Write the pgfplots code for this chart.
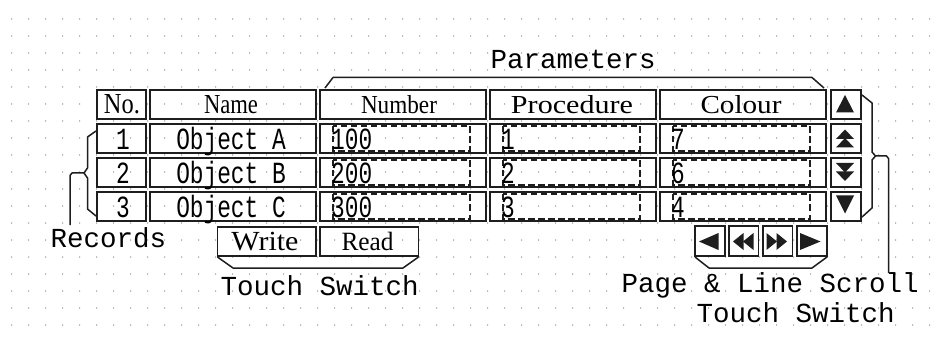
\documentclass[border=0pt]{standalone}
\usepackage{pgfplots}
\pgfplotsset{compat=1.18}
\usepackage{graphicx}
\usepackage{fontspec}
\setmainfont{Liberation Serif}
\newfontfamily\mono{Liberation Mono}
\newfontfamily\serif{Liberation Serif}
\definecolor{ink}{HTML}{1E1E1E}
\definecolor{dotc}{HTML}{959595}
\newcommand{\lbl}{\mono\fontsize{27.5}{30}\selectfont}
\newcommand{\celltxt}[1]{\scalebox{1}[1.35]{\mono\fontsize{22.8}{26}\selectfont #1}}
\newcommand{\hdr}[3]{\resizebox{#1pt}{#2pt}{\serif #3}}
\tikzset{cellst/.style={draw=ink,line width=1.9pt},
  dashst/.style={draw=ink,line width=2.6pt,dash pattern=on 6.5pt off 3.5pt},
  brst/.style={draw=ink,line width=1.5pt,line join=round},
  tri/.style={fill=ink,draw=none}}
\newcommand{\rowboxes}[2]{%
  \draw[cellst] (axis cs:97,#1) rectangle (axis cs:146,#2);
  \draw[cellst] (axis cs:150,#1) rectangle (axis cs:316,#2);
  \draw[cellst] (axis cs:320,#1) rectangle (axis cs:486,#2);
  \draw[cellst] (axis cs:490,#1) rectangle (axis cs:656,#2);
  \draw[cellst] (axis cs:660,#1) rectangle (axis cs:826,#2);
  \draw[cellst] (axis cs:831,#1) rectangle (axis cs:861,#2);}
\newcommand{\dboxes}[2]{%
  \draw[dashst] (axis cs:333,#1) rectangle (axis cs:470,#2);
  \draw[dashst] (axis cs:503,#1) rectangle (axis cs:640,#2);
  \draw[dashst] (axis cs:673,#1) rectangle (axis cs:810,#2);}
\newcommand{\datarow}[6]{% baseline, no, name, number, proc, colour
  \node[anchor=base,inner sep=0] at (axis cs:123,#1) {\celltxt{#2}};
  \node[anchor=base,inner sep=0] at (axis cs:231,#1) {\celltxt{#3}};
  \node[anchor=base west,inner sep=0] at (axis cs:331,#1) {\celltxt{#4}};
  \node[anchor=base west,inner sep=0] at (axis cs:501,#1) {\celltxt{#5}};
  \node[anchor=base west,inner sep=0] at (axis cs:671,#1) {\celltxt{#6}};}
\begin{document}
\begin{tikzpicture}
\begin{axis}[x=1pt,y=1pt,xmin=0,xmax=931,ymin=0,ymax=339,y dir=reverse,
  hide axis,clip=false,scale only axis]
\fill[white] (axis cs:0,0) rectangle (axis cs:931,339);
\pgfplotsextra{\foreach \i in {0,...,54}{\foreach \j in {0,...,18}{\fill[dotc] (axis cs:{11.7+17*\i},{19+17*\j}) circle[radius=0.75pt];}}}
% table cells
\rowboxes{90}{119}
\rowboxes{124}{153}
\rowboxes{158}{187}
\rowboxes{192}{221}
\dboxes{126}{151}
\dboxes{160}{185}
\dboxes{194}{219}
% header texts
\node[anchor=base,inner sep=0] at (axis cs:122,114) {\hdr{36}{19}{No.}};
\node[anchor=base,inner sep=0] at (axis cs:231,114) {\hdr{54}{18}{Name}};
\node[anchor=base,inner sep=0] at (axis cs:399,114) {\hdr{76}{18}{Number}};
\node[anchor=base,inner sep=0] at (axis cs:572,114) {\hdr{122}{18}{Procedure}};
\node[anchor=base,inner sep=0] at (axis cs:741,114) {\hdr{81}{18}{Colour}};
% data rows
\datarow{149.5}{1}{Object A}{100}{1}{7}
\datarow{183.5}{2}{Object B}{200}{2}{6}
\datarow{217}{3}{Object C}{300}{3}{4}
% arrow column symbols
\fill[tri] (axis cs:845,95) -- (axis cs:836,112.5) -- (axis cs:854,112.5) -- cycle;
\fill[tri] (axis cs:845,129.5) -- (axis cs:836,139) -- (axis cs:854,139) -- cycle;
\fill[tri] (axis cs:845,138) -- (axis cs:836,147.5) -- (axis cs:854,147.5) -- cycle;
\fill[tri] (axis cs:845,172.5) -- (axis cs:836,163) -- (axis cs:854,163) -- cycle;
\fill[tri] (axis cs:845,181) -- (axis cs:836,171.5) -- (axis cs:854,171.5) -- cycle;
\fill[tri] (axis cs:845,213.5) -- (axis cs:836,195.5) -- (axis cs:854,195.5) -- cycle;
% Write / Read switches
\draw[cellst] (axis cs:217.5,227) rectangle (axis cs:316,256);
\draw[cellst] (axis cs:320,227) rectangle (axis cs:418.5,256);
\node[anchor=base,inner sep=0] at (axis cs:265,250) {\hdr{67}{18.3}{Write}};
\node[anchor=base,inner sep=0] at (axis cs:367.5,250) {\hdr{52}{18.3}{Read}};
% scroll buttons
\draw[cellst] (axis cs:695,226) rectangle (axis cs:725,256);
\draw[cellst] (axis cs:729,226) rectangle (axis cs:758.5,256);
\draw[cellst] (axis cs:763,226) rectangle (axis cs:792.5,256);
\draw[cellst] (axis cs:797,226) rectangle (axis cs:827,256);
\fill[tri] (axis cs:699,241.5) -- (axis cs:718.5,233) -- (axis cs:718.5,250) -- cycle;
\fill[tri] (axis cs:733,241.5) -- (axis cs:743.5,233) -- (axis cs:743.5,250) -- cycle;
\fill[tri] (axis cs:743,241.5) -- (axis cs:753.5,233) -- (axis cs:753.5,250) -- cycle;
\fill[tri] (axis cs:787,241.5) -- (axis cs:776.5,233) -- (axis cs:776.5,250) -- cycle;
\fill[tri] (axis cs:777,241.5) -- (axis cs:766.5,233) -- (axis cs:766.5,250) -- cycle;
\fill[tri] (axis cs:820.5,241.5) -- (axis cs:800,233) -- (axis cs:800,250) -- cycle;
% brackets
\draw[brst] (axis cs:325,88) -- (axis cs:333,77.5) -- (axis cs:812,77.5) -- (axis cs:824,88);
\draw[brst] (axis cs:217.5,257) -- (axis cs:233,268) -- (axis cs:403,268) -- (axis cs:418.5,257);
\draw[brst] (axis cs:695,257) -- (axis cs:709,268) -- (axis cs:812,268) -- (axis cs:827,257);
\draw[brst] (axis cs:96,131) -- (axis cs:87.5,137) -- (axis cs:87.5,168) -- (axis cs:84,173) -- (axis cs:87.5,178) -- (axis cs:87.5,209) -- (axis cs:96,216);
\draw[brst] (axis cs:84,173) -- (axis cs:72,173) -- (axis cs:70,175.5) -- (axis cs:70,225);
\draw[brst] (axis cs:862,95) -- (axis cs:872,103) -- (axis cs:872,152) -- (axis cs:875.5,156) -- (axis cs:872,160) -- (axis cs:872,208) -- (axis cs:862,217);
\draw[brst] (axis cs:875.5,156) -- (axis cs:886.5,156) -- (axis cs:888.5,158.5) -- (axis cs:888.5,273);
% labels
\node[anchor=base west,inner sep=0] at (axis cs:490.5,69) {\lbl Parameters};
\node[anchor=base west,inner sep=0] at (axis cs:50.5,247) {\lbl Records};
\node[anchor=base west,inner sep=0] at (axis cs:220.5,295) {\lbl Touch Switch};
\node[anchor=base west,inner sep=0] at (axis cs:621.5,292) {\lbl Page \& Line Scroll};
\node[anchor=base west,inner sep=0] at (axis cs:696.5,322) {\lbl Touch Switch};
\end{axis}
\end{tikzpicture}
\end{document}
